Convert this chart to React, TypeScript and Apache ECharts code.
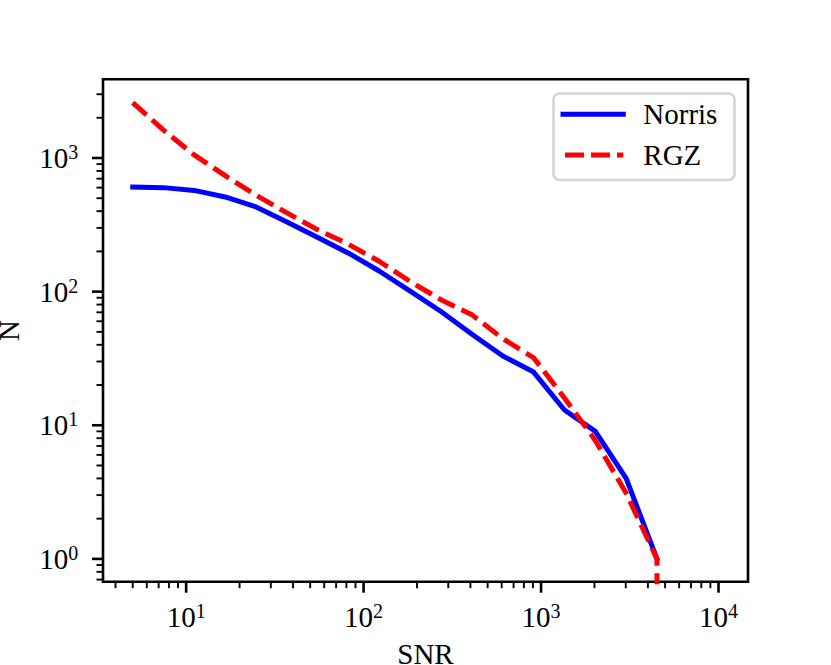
import React, { useEffect, useRef } from "react";
import * as echarts from "echarts";

// ---- data ----
const snr = [5, 7.46, 11.1, 16.6, 24.8, 37.0, 55.2, 82.3, 123, 183, 273, 408, 609, 908, 1355, 2022, 3017, 4500];
const norrisN = [607, 600, 572, 511, 430, 332, 254, 194, 142, 101, 71, 48, 33, 25, 13, 9, 4, 1];
const rgzN = [2600, 1616, 1055, 737, 526, 388, 290, 226, 168, 119, 87, 67, 44.5, 32, 16, 7.7, 3.1, 1];
// RGZ drops to zero after the last bin (drawn as a drop below the axis)
const rgzTailSnr = [4500];
const rgzTailN = [0.3];

const seriesNames = ["Norris", "RGZ"];
const xAxisName = "SNR";
const yAxisName = "N";

const xMajorTicks = [10, 100, 1000, 10000];
const xMinorTicks = [4, 5, 6, 7, 8, 9, 20, 30, 40, 50, 60, 70, 80, 90, 200, 300, 400, 500, 600, 700, 800, 900, 2000, 3000, 4000, 5000, 6000, 7000, 8000, 9000];
const yMajorTicks = [1, 10, 100, 1000];
const yMinorTicks = [0.7, 0.8, 0.9, 2, 3, 4, 5, 6, 7, 8, 9, 20, 30, 40, 50, 60, 70, 80, 90, 200, 300, 400, 500, 600, 700, 800, 900, 2000, 3000];

const xLimits = [3.4, 14660];
const yLimits = [0.675, 3880];

const FONT = '"Liberation Serif", "Times New Roman", serif';
const BLUE = "#0000ff";
const RED = "#ff0000";

function powLabel(v: number): string {
  const l = Math.log10(v);
  const e = Math.round(l);
  if (Math.abs(l - e) > 1e-6) return "";
  return `{b|10}{s|${e}}`;
}

const richLabel = {
  b: { fontSize: 29, fontFamily: FONT, color: "#000", lineHeight: 32 },
  s: { fontSize: 20, fontFamily: FONT, color: "#000", lineHeight: 20, verticalAlign: "top" },
};

export default function App() {
  const ref = useRef<HTMLDivElement>(null);
  useEffect(() => {
    if (!ref.current) return;
    const chart = echarts.init(ref.current, null, { renderer: "svg" });

    const xTickData = xMajorTicks.map((v) => [v, 1, 1]).concat(xMinorTicks.map((v) => [v, 1, 0]));
    const yTickData = yMajorTicks.map((v) => [10, v, 1]).concat(yMinorTicks.map((v) => [10, v, 0]));

    const option: any = {
      animation: false,
      backgroundColor: "#ffffff",
      grid: {
        left: 103,
        top: 79.3,
        right: 83,
        bottom: 83.3,
        show: true,
        borderColor: "#000",
        borderWidth: 2.6,
        backgroundColor: "transparent",
        containLabel: false,
        outerBoundsMode: "none",
      },
      xAxis: {
        type: "log",
        logBase: 10,
        min: xLimits[0],
        max: xLimits[1],
        name: xAxisName,
        nameLocation: "middle",
        nameGap: 58,
        nameMoveOverlap: false,
        nameTextStyle: { fontSize: 29, fontFamily: FONT, color: "#000" },
        axisLine: { show: false },
        axisTick: { show: false },
        splitLine: { show: false },
        minorTick: { show: false },
        axisLabel: {
          margin: 19,
          formatter: powLabel,
          rich: richLabel,
          showMinLabel: false,
          showMaxLabel: false,
          hideOverlap: false,
        },
      },
      yAxis: {
        type: "log",
        logBase: 10,
        min: yLimits[0],
        max: yLimits[1],
        name: yAxisName,
        nameLocation: "middle",
        nameGap: 80,
        nameRotate: 90,
        nameMoveOverlap: false,
        nameTextStyle: { fontSize: 29, fontFamily: FONT, color: "#000" },
        axisLine: { show: false },
        axisTick: { show: false },
        splitLine: { show: false },
        minorTick: { show: false },
        axisLabel: {
          margin: 24.7,
          formatter: powLabel,
          rich: richLabel,
          showMinLabel: false,
          showMaxLabel: false,
          hideOverlap: false,
        },
      },
      series: [
        {
          name: seriesNames[0],
          type: "line",
          data: snr.map((x, i) => [x, norrisN[i]]),
          symbol: "none",
          clip: true,
          lineStyle: { color: BLUE, width: 5, cap: "square", join: "round" },
          z: 3,
        },
        {
          name: seriesNames[1],
          type: "line",
          data: snr.map((x, i) => [x, rgzN[i]]).concat(rgzTailSnr.map((x, i) => [x, rgzTailN[i]])),
          symbol: "none",
          clip: true,
          lineStyle: { color: RED, width: 5, type: [18.5, 7.5], cap: "butt", join: "round" },
          z: 4,
        },
        {
          type: "custom",
          silent: true,
          clip: false,
          z: 5,
          data: xTickData,
          renderItem: (params: any, api: any) => {
            const v = api.value(0);
            const major = api.value(2) === 1;
            const cs = params.coordSys;
            const px = api.coord([v, 1])[0];
            const y0 = cs.y + cs.height;
            return {
              type: "line",
              shape: { x1: px, y1: y0, x2: px, y2: y0 + (major ? 11 : 6.5) },
              style: { stroke: "#000", lineWidth: major ? 2.6 : 1.9 },
            };
          },
        },
        {
          type: "custom",
          silent: true,
          clip: false,
          z: 5,
          data: yTickData,
          renderItem: (params: any, api: any) => {
            const v = api.value(1);
            const major = api.value(2) === 1;
            const cs = params.coordSys;
            const py = api.coord([10, v])[1];
            const x0 = cs.x;
            return {
              type: "line",
              shape: { x1: x0, y1: py, x2: x0 - (major ? 11 : 6.5), y2: py },
              style: { stroke: "#000", lineWidth: major ? 2.6 : 1.9 },
            };
          },
        },
      ],
      graphic: [
        {
          type: "group",
          z: 100,
          children: [
            {
              type: "rect",
              shape: { x: 553.5, y: 93.5, width: 181, height: 86.5, r: 6 },
              style: { fill: "rgba(255,255,255,0.8)", stroke: "#d5d5d5", lineWidth: 2.6 },
            },
            {
              type: "line",
              shape: { x1: 563, y1: 114.3, x2: 623.3, y2: 114.3 },
              style: { stroke: BLUE, lineWidth: 5, lineCap: "square" },
            },
            {
              type: "line",
              shape: { x1: 565, y1: 155, x2: 623.3, y2: 155 },
              style: { stroke: RED, lineWidth: 5, lineDash: [19, 7], lineCap: "butt" },
            },
            {
              type: "text",
              x: 643.3,
              y: 114.3,
              style: { text: seriesNames[0], font: `29px ${FONT}`, fill: "#000", verticalAlign: "middle", align: "left" },
            },
            {
              type: "text",
              x: 643.3,
              y: 155,
              style: { text: seriesNames[1], font: `29px ${FONT}`, fill: "#000", verticalAlign: "middle", align: "left" },
            },
          ],
        },
      ],
    };
    chart.setOption(option);
    return () => chart.dispose();
  }, []);
  return (
    <div
      ref={ref}
      style={{ position: "fixed", left: 0, top: 0, width: 831, height: 665, background: "#fff" }}
    />
  );
}
